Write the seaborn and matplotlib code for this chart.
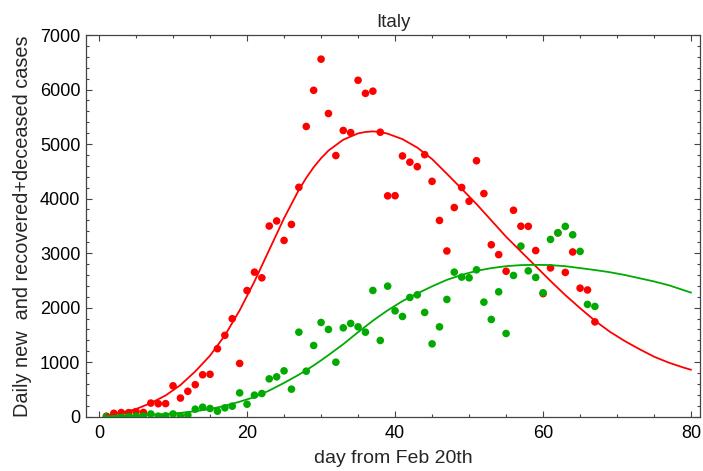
import matplotlib
matplotlib.use("Agg")
import matplotlib.pyplot as plt
import seaborn as sns
from matplotlib.ticker import MultipleLocator

days = list(range(1, 68))
new_cases = [10, 62, 76, 74, 93, 78, 250, 238, 240, 566,
             342, 466, 587, 769, 778, 1247, 1492, 1797, 977, 2313,
             2651, 2547, 3497, 3590, 3233, 3526, 4207, 5322, 5986, 6557,
             5560, 4789, 5249, 5210, 6170, 5930, 5970, 5217, 4050, 4053,
             4782, 4668, 4585, 4805, 4316, 3599, 3039, 3836, 4204, 3951,
             4694, 4092, 3153, 2972, 2667, 3786, 3493, 3491, 3047, 2256,
             2729, 3370, 2646, 3021, 2357, 2324, 1739]
recovered_deceased = [0, 0, 0, 0, 10, 10, 50, 10, 15, 50,
                      15, 30, 138, 174, 150, 101, 162, 193, 437, 229,
                      395, 425, 694, 731, 841, 505, 1550, 835, 1306, 1728,
                      1600, 1000, 1630, 1710, 1648, 1550, 2315, 1398, 2394, 1941,
                      1838, 2187, 2235, 1912, 1336, 1648, 2150, 2651, 2560, 2547,
                      2694, 2101, 1783, 2290, 1526, 2590, 3128, 2675, 2554, 2272,
                      3251, 3373, 3490, 3336, 3031, 2059, 2022]

fit_days = [1, 3, 5, 7, 9, 11, 13, 15, 17, 19, 21, 23, 25, 27, 28, 29, 30, 31, 33, 35, 36, 37, 38, 39,
            41, 43, 45, 47, 49, 51, 53, 55, 57, 59, 61, 63, 65, 67, 69, 71, 73, 75, 77, 79, 80]
fit_new = [25, 70, 140, 250, 390, 580, 830, 1120, 1490, 1950, 2480, 3060, 3640, 4160, 4380, 4575,
           4740, 4880, 5080, 5195, 5222, 5232, 5222, 5190, 5090, 4935, 4725, 4455, 4180, 3900, 3600,
           3300, 3030, 2760, 2490, 2230, 1990, 1760, 1560, 1390, 1240, 1100, 990, 900, 860]
fit_recovered = [10, 15, 25, 35, 50, 70, 100, 140, 200, 275, 360, 480, 620, 770, 853, 940, 1033,
                 1130, 1330, 1550, 1655, 1760, 1857, 1950, 2120, 2260, 2390, 2510, 2600,
                 2675, 2725, 2760, 2780, 2785, 2780, 2760, 2725, 2690, 2650, 2600, 2540,
                 2480, 2410, 2320, 2275]

sns.set_style("ticks")
plt.rcParams['font.family'] = ['Liberation Sans', 'DejaVu Sans']

RED = '#ff0000'
GREEN = '#00aa00'
FRAME = '#444444'

fig = plt.figure(figsize=(7.03, 4.71), dpi=100)
ax = fig.add_axes([86 / 703, 1 - 416.7 / 471, (700 - 86) / 703, (416.7 - 35) / 471])

sns.scatterplot(x=days, y=new_cases, color=RED, s=30, edgecolor='none', linewidth=0, ax=ax, zorder=3)
sns.scatterplot(x=days, y=recovered_deceased, color=GREEN, s=30, edgecolor='none', linewidth=0, ax=ax, zorder=4)
sns.lineplot(x=fit_days, y=fit_new, color=RED, linewidth=1.3, ax=ax, zorder=5)
sns.lineplot(x=fit_days, y=fit_recovered, color=GREEN, linewidth=1.3, ax=ax, zorder=5)

ax.set_xlim(-1.76, 81.2)
ax.set_ylim(0, 7000)
ax.xaxis.set_major_locator(MultipleLocator(20))
ax.xaxis.set_minor_locator(MultipleLocator(5))
ax.yaxis.set_major_locator(MultipleLocator(1000))
ax.yaxis.set_minor_locator(MultipleLocator(200))

for sp in ax.spines.values():
    sp.set_visible(True)
    sp.set_color(FRAME)
    sp.set_linewidth(0.9)

ax.tick_params(which='both', direction='in', top=True, right=True, color=FRAME, width=0.8,
               labelsize=13, labelcolor='black')
ax.tick_params(which='major', length=4)
ax.tick_params(which='minor', length=2.3)
ax.tick_params(axis='y', pad=4)
ax.tick_params(axis='x', pad=6)

ax.set_title('Italy', fontsize=13.5, pad=6)
ax.set_xlabel('day from Feb 20th', fontsize=14, labelpad=6)
ax.set_ylabel('Daily new  and recovered+deceased cases', fontsize=14.3, labelpad=6)

fig.savefig('out.png', dpi=100)
